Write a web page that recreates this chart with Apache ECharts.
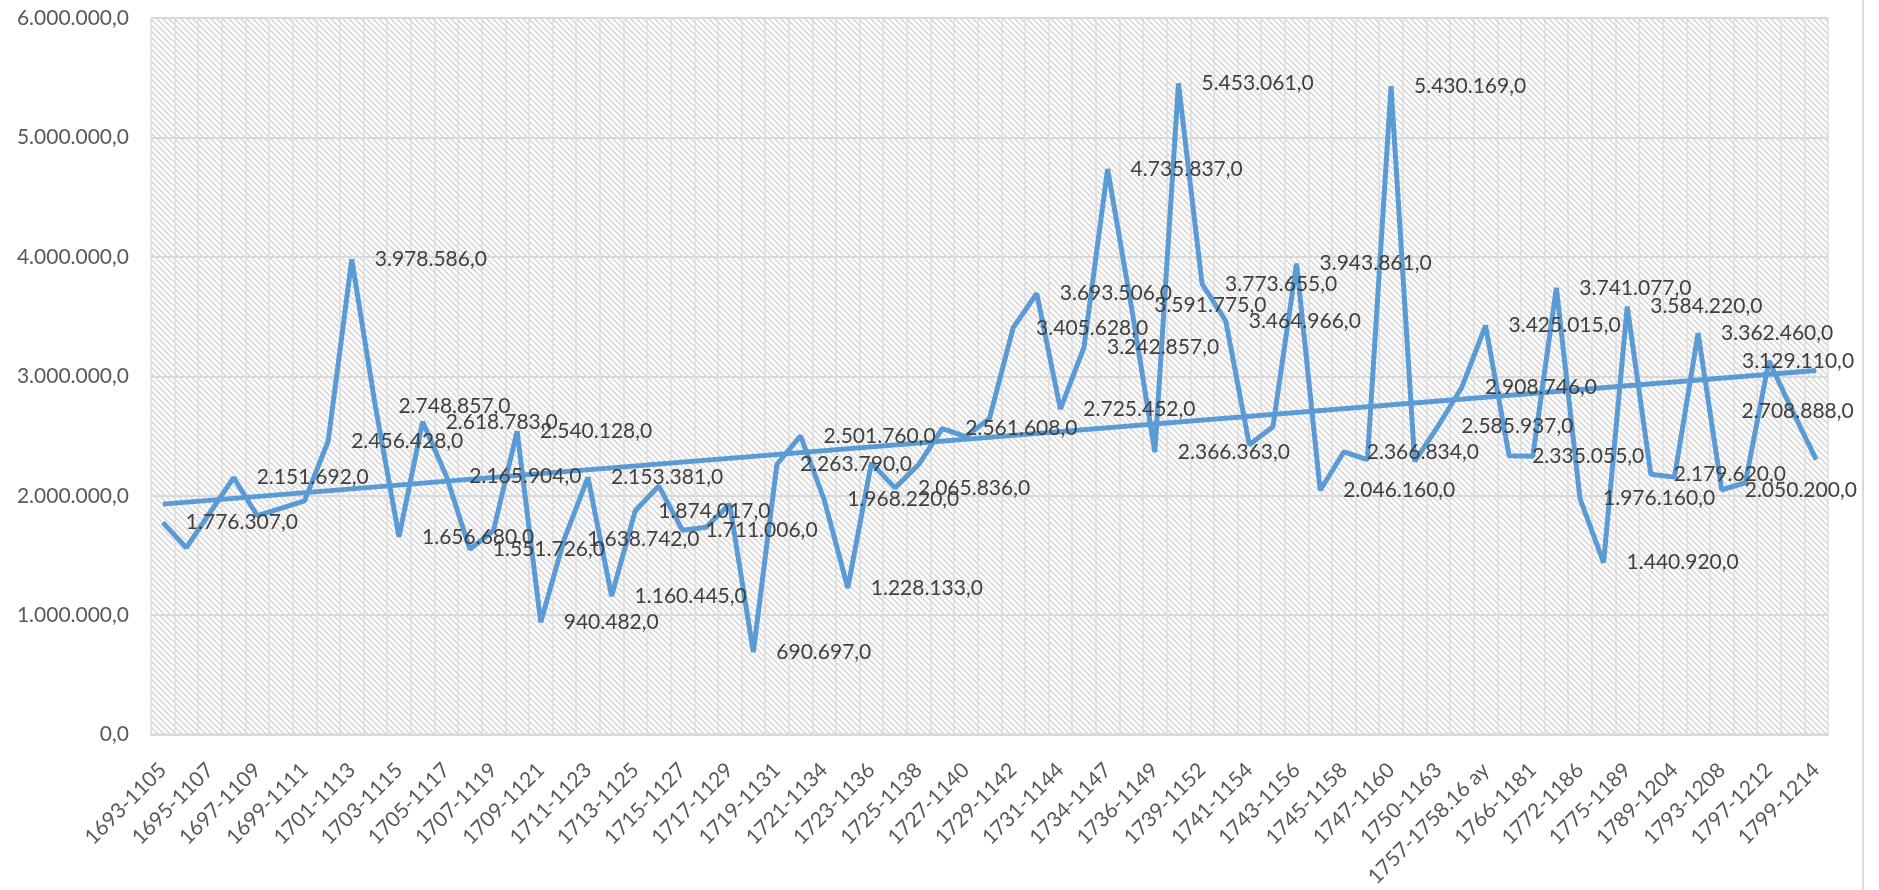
<!DOCTYPE html>
<html>
<head>
<meta charset="utf-8">
<script src="https://cdn.jsdelivr.net/npm/echarts@6/dist/echarts.min.js"></script>
<style>
  html, body { margin: 0; padding: 0; background: #ffffff; }
  #chart { width: 1879px; height: 890px; }
</style>
</head>
<body>
<div id="chart"></div>
<script>
  // labels printed under the axis (every other category)
  var shownLabels = ['1693-1105', '1695-1107', '1697-1109', '1699-1111', '1701-1113', '1703-1115',
    '1705-1117', '1707-1119', '1709-1121', '1711-1123', '1713-1125', '1715-1127', '1717-1129',
    '1719-1131', '1721-1134', '1723-1136', '1725-1138', '1727-1140', '1729-1142', '1731-1144',
    '1734-1147', '1736-1149', '1739-1152', '1741-1154', '1743-1156', '1745-1158', '1747-1160',
    '1750-1163', '1757-1758.16 ay', '1766-1181', '1772-1186', '1775-1189', '1789-1204',
    '1793-1208', '1797-1212', '1799-1214'];

  var values = [1776307, 1565000, 1860000, 2151692, 1833000, 1895000, 1957000, 2456428, 3978586,
    2748857, 1656680, 2618783, 2165904, 1551726, 1709000, 2540128, 940482, 1638742, 2153381,
    1160445, 1874017, 2081000, 1711006, 1736000, 1930000, 690697, 2263790, 2501760, 1968220,
    1228133, 2275000, 2065836, 2261000, 2561608, 2495000, 2648000, 3405628, 3693506, 2725452,
    3242857, 4735837, 3591775, 2366363, 5453061, 3773655, 3464966, 2427000, 2578000, 3943861,
    2046160, 2366834, 2302000, 5430169, 2288000, 2585937, 2908746, 3425015, 2335055, 2330000,
    3741077, 1976160, 1440920, 3584220, 2179620, 2156000, 3362460, 2050200, 2109000, 3129110,
    2708888, 2302000];

  // points that carry no value label in the picture
  var unlabeled = [1, 2, 4, 5, 6, 14, 21, 23, 24, 30, 32, 34, 35, 46, 47, 51, 53, 58, 64, 67, 70];

  // linear trend line, value at first and last category
  var trendEnds = [1930000, 3048000];

  var yMax = 6000000;
  var yStep = 1000000;

  var categories = [];
  for (var i = 0; i < values.length; i++) {
    categories.push(i % 2 === 0 ? shownLabels[i / 2] : '');
  }

  function fmt(v) {
    return Math.round(v).toString().replace(/\B(?=(\d{3})+(?!\d))/g, '.') + ',0';
  }

  // hatch fill of the plot area
  var tile = document.createElement('canvas');
  tile.width = 6;
  tile.height = 6;
  var ctx = tile.getContext('2d');
  ctx.fillStyle = '#ffffff';
  ctx.fillRect(0, 0, 6, 6);
  ctx.strokeStyle = '#d4d4d4';
  ctx.lineWidth = 1.4;
  ctx.beginPath();
  ctx.moveTo(-1, -1); ctx.lineTo(7, 7);
  ctx.moveTo(-1, 5); ctx.lineTo(1, 7);
  ctx.moveTo(5, -1); ctx.lineTo(7, 1);
  ctx.stroke();

  // labels that Excel pushed back inside the chart area (px to the left)
  var labelShift = { 68: -50, 69: -74 };

  var seriesData = values.map(function (v, i) {
    var item = { value: v };
    if (unlabeled.indexOf(i) >= 0) {
      item.label = { show: false };
    }
    return item;
  });

  var font = 'Lato, "Open Sans", sans-serif';
  var chart = echarts.init(document.getElementById('chart'));
  chart.setOption({
    animation: false,
    backgroundColor: '#ffffff',
    grid: {
      left: 151, right: 51, top: 18, bottom: 147,
      show: true,
      backgroundColor: { image: tile, repeat: 'repeat' },
      borderWidth: 0
    },
    xAxis: {
      type: 'category',
      data: categories,
      boundaryGap: true,
      axisLine: { lineStyle: { color: '#d9d9d9', width: 2.5 } },
      axisTick: { show: false },
      axisLabel: {
        interval: 1,
        rotate: 45,
        margin: 32,
        color: '#595959',
        fontFamily: font,
        fontSize: 21
      },
      splitLine: { show: true, interval: 0, lineStyle: { color: '#dcdcdc', width: 1.5 } }
    },
    yAxis: {
      type: 'value',
      min: 0,
      max: yMax,
      interval: yStep,
      axisLine: { show: false },
      axisTick: { show: false },
      axisLabel: {
        margin: 22,
        color: '#595959',
        fontFamily: font,
        fontSize: 21,
        formatter: fmt
      },
      splitLine: { lineStyle: { color: '#d9d9d9', width: 2 } }
    },
    series: [
      {
        type: 'line',
        data: seriesData,
        symbol: 'circle',
        symbolSize: 2,
        showSymbol: true,
        showAllSymbol: true,
        itemStyle: { color: 'rgba(91,155,213,0)', borderWidth: 0 },
        lineStyle: { color: '#5b9bd5', width: 5 },
        label: {
          show: true,
          position: 'right',
          distance: 22,
          color: '#404040',
          fontFamily: font,
          fontSize: 21,
          formatter: function (p) { return fmt(p.value); }
        },
        labelLayout: function (params) {
          var dx = labelShift[params.dataIndex];
          return dx ? { dx: dx, hideOverlap: false } : { hideOverlap: false };
        },
        z: 3
      },
      {
        type: 'line',
        data: [[0, trendEnds[0]], [values.length - 1, trendEnds[1]]],
        symbol: 'none',
        lineStyle: { color: '#5b9bd5', width: 5 },
        z: 2
      }
    ],
    graphic: [
      {
        type: 'line',
        shape: { x1: 1863, y1: 0, x2: 1863, y2: 890 },
        style: { stroke: '#d9d9d9', lineWidth: 2 }
      }
    ]
  });
</script>
</body>
</html>
